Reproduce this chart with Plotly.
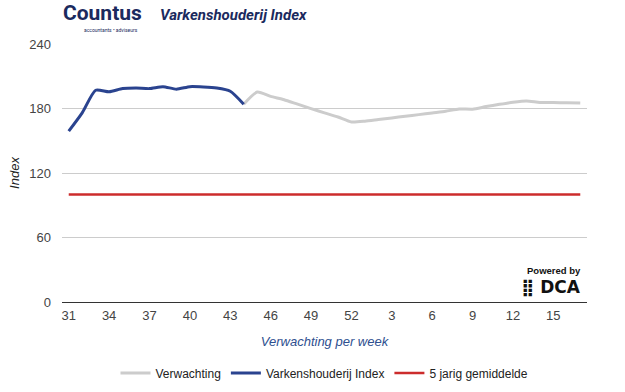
import plotly.graph_objects as go

weeks = [str(w) for w in list(range(31, 53)) + list(range(1, 18))]

index_vals = [159, 176, 197, 195.5, 198.5, 199, 198.5, 200.3, 198, 200.3, 200, 199, 196, 184] + [None] * 25

forecast_vals = [None] * 13 + [184, 195.3, 191.3, 188.2, 184, 179.9, 175.9, 172.1, 167.5,
                               168.2, 169.7, 171.2, 172.8, 174.3, 175.9, 177.4, 179.6, 179.4,
                               181.8, 183.9, 185.8, 187, 185.6, 185.5, 185.4, 185.2]

avg_vals = [100] * 39

tick_weeks = ["31", "34", "37", "40", "43", "46", "49", "52", "3", "6", "9", "12", "15"]
y_ticks = [0, 60, 120, 180, 240]

fig = go.Figure()
fig.add_trace(go.Scatter(x=weeks, y=forecast_vals, name="Verwachting", mode="lines",
                         line=dict(color="#cccccc", width=3, shape="spline", smoothing=0.6),
                         connectgaps=False))
fig.add_trace(go.Scatter(x=weeks, y=index_vals, name="Varkenshouderij Index", mode="lines",
                         line=dict(color="#2a438f", width=3, shape="spline", smoothing=0.6)))
fig.add_trace(go.Scatter(x=weeks, y=avg_vals, name="5 jarig gemiddelde", mode="lines",
                         line=dict(color="#cc2c2c", width=2.5)))

font_family = "Liberation Sans, Arial, sans-serif"

fig.update_layout(
    width=625, height=392,
    margin=dict(l=62, r=38, t=43.5, b=89.7, autoexpand=False),
    paper_bgcolor="white", plot_bgcolor="white",
    font=dict(family=font_family, size=13, color="#444444"),
    showlegend=True,
    legend=dict(orientation="h", x=0.5, xanchor="center", yref="container",
                y=1 - 373 / 392, yanchor="middle",
                font=dict(size=12, color="#222222"), itemwidth=30, tracegroupgap=0),
    xaxis=dict(type="category", categoryorder="array", categoryarray=weeks,
               range=[-0.5, 38.5], tickmode="array", tickvals=tick_weeks, ticktext=tick_weeks,
               showgrid=False, showline=False, zeroline=False, ticks="", automargin=False,
               tickfont=dict(size=13, color="#444444"), ticklabelstandoff=4,
               title=dict(text="<i>Verwachting per week</i>", font=dict(size=13, color="#2e4f8f"),
                          standoff=14)),
    yaxis=dict(range=[0, 240], tickmode="array", tickvals=y_ticks,
               showgrid=True, gridcolor="#cccccc", gridwidth=1,
               zeroline=True, zerolinecolor="#333333", zerolinewidth=1,
               showline=False, ticks="", tickfont=dict(size=13, color="#444444"),
               ticklabelstandoff=10, automargin=False,
               title=dict(text="<i>Index</i>", font=dict(size=13, color="#222222"), standoff=6)),
)

# header: logo text and title (relative to plot top-left)
fig.add_annotation(xref="paper", yref="paper", x=0, y=1, xanchor="left", yanchor="middle",
                   xshift=-1, yshift=31, text="<b>Countus</b>", showarrow=False,
                   font=dict(family="Roboto, sans-serif", size=21, color="#1b2a5e"))
fig.add_annotation(xref="paper", yref="paper", x=0, y=1, xanchor="right", yanchor="middle",
                   xshift=78, yshift=14, text="accountants • adviseurs", showarrow=False,
                   font=dict(family="Roboto, sans-serif", size=5, color="#1b2a5e"))
fig.add_annotation(xref="paper", yref="paper", x=0, y=1, xanchor="left", yanchor="middle",
                   xshift=96, yshift=29, text="<b><i>Varkenshouderij Index</i></b>",
                   showarrow=False,
                   font=dict(family="Roboto, sans-serif", size=15, color="#1b2a5e"))

# Powered by DCA (relative to plot bottom-right)
fig.add_annotation(xref="paper", yref="paper", x=1, y=0, xanchor="right", yanchor="middle",
                   xshift=-4, yshift=32, text="<b>Powered by</b>", showarrow=False,
                   font=dict(family="Liberation Sans, Arial, sans-serif", size=9.5, color="#111111"))
fig.add_annotation(xref="paper", yref="paper", x=1, y=0, xanchor="right", yanchor="middle",
                   xshift=-4, yshift=15, text="<b>⣿ DCA</b>", showarrow=False,
                   font=dict(family="DejaVu Sans, sans-serif", size=17, color="#111111"))

fig.write_html("out.html", config={"displayModeBar": False},
               post_script="document.body.style.margin='0';")
